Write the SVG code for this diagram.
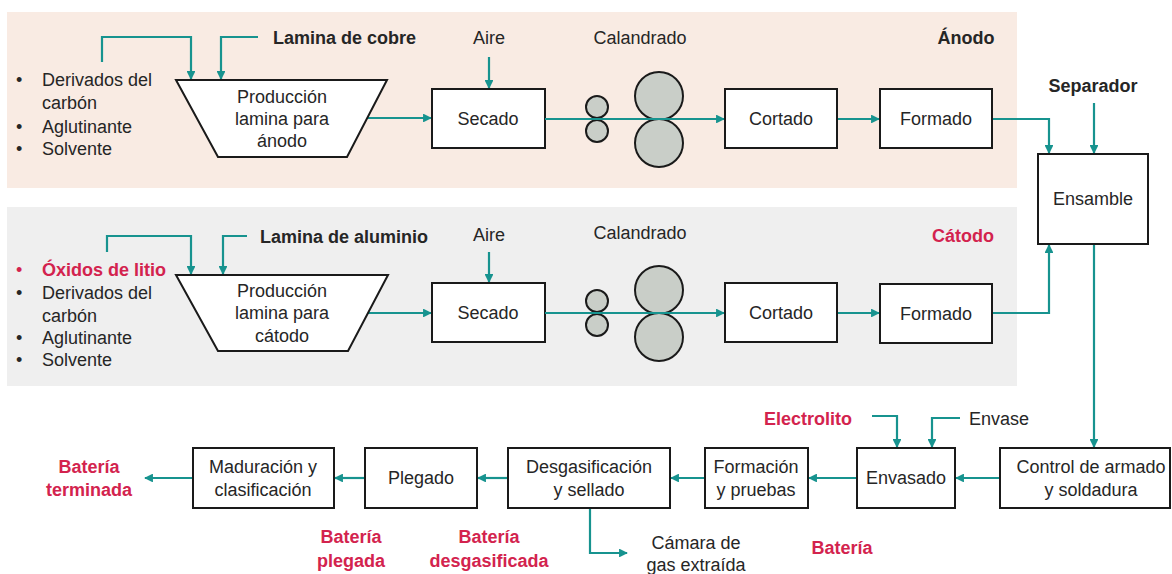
<svg xmlns="http://www.w3.org/2000/svg" width="1172" height="574" viewBox="0 0 1172 574">
<defs>
<marker id="ah" viewBox="0 0 10 10" refX="9" refY="5" markerWidth="4" markerHeight="4" orient="auto" markerUnits="strokeWidth">
<path d="M0,0 L10,5 L0,10 z" fill="#17938F"/>
</marker>
<style>
text{font-family:"Liberation Sans",Arial,sans-serif;font-size:18px;fill:#262626}
.c{text-anchor:middle}
.e{text-anchor:end}
.b{font-weight:bold}
.r{fill:#D3234E}
.box{fill:#fff;stroke:#1a1a1a;stroke-width:2}
.roll{fill:#C9CEC8;stroke:#1a1a1a;stroke-width:2}
.ln{fill:none;stroke:#17938F;stroke-width:2.2}
.ar{marker-end:url(#ah)}
</style>
</defs>
<rect width="1172" height="574" fill="#fff"/>
<rect x="7" y="12" width="1010" height="176" fill="#F9EBE3"/>
<rect x="7" y="207" width="1010" height="179" fill="#EFEFEF"/>

<g id="connectors">
<path class="ln ar" d="M102,62 V37 H191 V79"/>
<path class="ln ar" d="M258,37 H221 V79"/>
<path class="ln ar" d="M367,118 H431"/>
<path class="ln ar" d="M489,57 V88"/>
<path class="ln ar" d="M545,119 H724"/>
<path class="ln ar" d="M837,119 H879"/>
<path class="ln ar" d="M992,119 H1049 V153"/>
<path class="ln ar" d="M1094,103 V153"/>
<path class="ln ar" d="M107,252 V236 H191 V274"/>
<path class="ln ar" d="M247,236 H223 V274"/>
<path class="ln ar" d="M368,313 H431"/>
<path class="ln ar" d="M489,252 V282"/>
<path class="ln ar" d="M545,313 H724"/>
<path class="ln ar" d="M837,313 H879"/>
<path class="ln ar" d="M992,313 H1049 V245"/>
<path class="ln ar" d="M1094,244 V447"/>
<path class="ln ar" d="M1000,478 H956"/>
<path class="ln ar" d="M872,416 H897 V447"/>
<path class="ln ar" d="M960,418 H932 V447"/>
<path class="ln ar" d="M857,478 H809"/>
<path class="ln ar" d="M705,478 H671"/>
<path class="ln ar" d="M508,478 H478"/>
<path class="ln ar" d="M365,478 H335"/>
<path class="ln ar" d="M193,478 H145"/>
<path class="ln ar" d="M590,508 V553 H627"/>
</g>

<g id="anode-inputs">
<text x="16" y="86">•</text><text x="42" y="86">Derivados del</text>
<text x="42" y="109">carbón</text>
<text x="16" y="133">•</text><text x="42" y="133">Aglutinante</text>
<text x="16" y="155">•</text><text x="42" y="155">Solvente</text>
<text x="273" y="44" class="b">Lamina de cobre</text>
</g>
<g id="anode-produccion">
<polygon class="box" points="176,80 387,80 347,157 218,157"/>
<text class="c" x="282" y="103">Producción</text>
<text class="c" x="282" y="125">lamina para</text>
<text class="c" x="282" y="147">ánodo</text>
</g>
<g id="anode-secado">
<text class="c" x="489" y="44">Aire</text>
<rect class="box" x="432" y="89" width="113" height="59"/>
<text class="c" x="488" y="125">Secado</text>
</g>
<g id="anode-calandrado">
<text class="c" x="640" y="44">Calandrado</text>
<circle class="roll" cx="597" cy="107" r="11"/>
<circle class="roll" cx="597" cy="131" r="11"/>
<circle class="roll" cx="659" cy="96" r="24"/>
<circle class="roll" cx="659" cy="143" r="24"/>
<path class="ln" d="M545,119 H724"/>
</g>
<g id="anode-cortado">
<rect class="box" x="725" y="89" width="112" height="59"/>
<text class="c" x="781" y="125">Cortado</text>
</g>
<g id="anode-formado">
<rect class="box" x="880" y="89" width="112" height="59"/>
<text class="c" x="936" y="125">Formado</text>
<text class="c b" x="966" y="44">Ánodo</text>
</g>

<g id="cathode-inputs">
<text x="16" y="276" class="r">•</text><text x="42" y="276" class="b r">Óxidos de litio</text>
<text x="16" y="299">•</text><text x="42" y="299">Derivados del</text>
<text x="42" y="322">carbón</text>
<text x="16" y="344">•</text><text x="42" y="344">Aglutinante</text>
<text x="16" y="366">•</text><text x="42" y="366">Solvente</text>
<text x="260" y="243" class="b">Lamina de aluminio</text>
</g>
<g id="cathode-produccion">
<polygon class="box" points="176,275 388,275 348,351 218,351"/>
<text class="c" x="282" y="297">Producción</text>
<text class="c" x="282" y="319">lamina para</text>
<text class="c" x="282" y="342">cátodo</text>
</g>
<g id="cathode-secado">
<text class="c" x="489" y="241">Aire</text>
<rect class="box" x="432" y="283" width="113" height="59"/>
<text class="c" x="488" y="319">Secado</text>
</g>
<g id="cathode-calandrado">
<text class="c" x="640" y="239">Calandrado</text>
<circle class="roll" cx="597" cy="301" r="11"/>
<circle class="roll" cx="597" cy="325" r="11"/>
<circle class="roll" cx="659" cy="290" r="24"/>
<circle class="roll" cx="659" cy="337" r="24"/>
<path class="ln" d="M545,313 H724"/>
</g>
<g id="cathode-cortado">
<rect class="box" x="725" y="283" width="112" height="59"/>
<text class="c" x="781" y="319">Cortado</text>
</g>
<g id="cathode-formado">
<rect class="box" x="880" y="284" width="112" height="59"/>
<text class="c" x="936" y="320">Formado</text>
<text class="c b r" x="963" y="242">Cátodo</text>
</g>

<g id="ensamble">
<text class="c b" x="1093" y="92">Separador</text>
<rect class="box" x="1038" y="154" width="110" height="90"/>
<text class="c" x="1093" y="205">Ensamble</text>
</g>

<g id="control">
<rect class="box" x="1000" y="448" width="170" height="60"/>
<text class="c" x="1091" y="473">Control de armado</text>
<text class="c" x="1091" y="496">y soldadura</text>
</g>
<g id="envasado">
<text class="b r e" x="852" y="425">Electrolito</text>
<text x="969" y="425">Envase</text>
<rect class="box" x="857" y="448" width="98" height="60"/>
<text class="c" x="906" y="484">Envasado</text>
<text class="c b r" x="842" y="554">Batería</text>
</g>
<g id="formacion">
<rect class="box" x="705" y="448" width="103" height="60"/>
<text class="c" x="756" y="473">Formación</text>
<text class="c" x="756" y="496">y pruebas</text>
</g>
<g id="desgasificacion">
<rect class="box" x="508" y="448" width="162" height="60"/>
<text class="c" x="589" y="473">Desgasificación</text>
<text class="c" x="589" y="496">y sellado</text>
<text class="c" x="696" y="549">Cámara de</text>
<text class="c" x="696" y="571">gas extraída</text>
<text class="c b r" x="489" y="543">Batería</text>
<text class="c b r" x="489" y="567">desgasificada</text>
</g>
<g id="plegado">
<rect class="box" x="365" y="448" width="112" height="60"/>
<text class="c" x="421" y="484">Plegado</text>
<text class="c b r" x="351" y="543">Batería</text>
<text class="c b r" x="351" y="567">plegada</text>
</g>
<g id="maduracion">
<rect class="box" x="193" y="448" width="141" height="60"/>
<text class="c" x="263" y="473">Maduración y</text>
<text class="c" x="263" y="496">clasificación</text>
<text class="c b r" x="89" y="473">Batería</text>
<text class="c b r" x="89" y="496">terminada</text>
</g>
</svg>
